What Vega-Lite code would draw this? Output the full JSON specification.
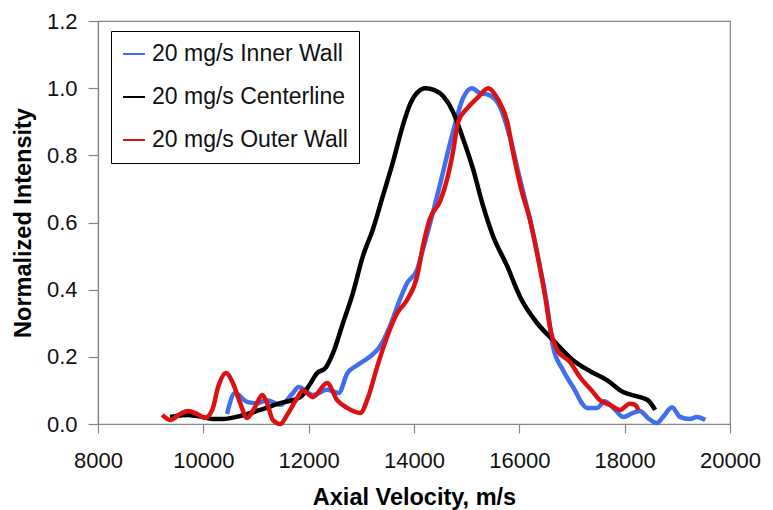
{
  "$schema": "https://vega.github.io/schema/vega-lite/v6.json",
  "width": 632,
  "height": 403,
  "autosize": {"type": "none"},
  "padding": {"left": 98, "top": 21, "right": 43, "bottom": 86},
  "background": "white",
  "config": {
    "font": "Liberation Sans",
    "view": {"stroke": "#868686", "strokeWidth": 1.2},
    "axis": {
      "grid": false,
      "domainColor": "#868686",
      "domainWidth": 1.2,
      "tickColor": "#868686",
      "tickWidth": 1.2,
      "labelColor": "#111111",
      "labelFont": "Liberation Sans",
      "labelFontSize": 22,
      "titleFont": "Liberation Sans",
      "titleFontSize": 23.5,
      "titleFontWeight": "bold",
      "titleColor": "#000000"
    }
  },
  "data": {
    "values": [
      {"series": "20 mg/s Inner Wall", "v": 10450, "i": 0.03},
      {"series": "20 mg/s Inner Wall", "v": 10600, "i": 0.092},
      {"series": "20 mg/s Inner Wall", "v": 10830, "i": 0.066},
      {"series": "20 mg/s Inner Wall", "v": 11020, "i": 0.062},
      {"series": "20 mg/s Inner Wall", "v": 11210, "i": 0.071},
      {"series": "20 mg/s Inner Wall", "v": 11460, "i": 0.057},
      {"series": "20 mg/s Inner Wall", "v": 11700, "i": 0.092},
      {"series": "20 mg/s Inner Wall", "v": 11810, "i": 0.11},
      {"series": "20 mg/s Inner Wall", "v": 12080, "i": 0.086},
      {"series": "20 mg/s Inner Wall", "v": 12350, "i": 0.102},
      {"series": "20 mg/s Inner Wall", "v": 12570, "i": 0.092},
      {"series": "20 mg/s Inner Wall", "v": 12730, "i": 0.15},
      {"series": "20 mg/s Inner Wall", "v": 12920, "i": 0.175},
      {"series": "20 mg/s Inner Wall", "v": 13160, "i": 0.2},
      {"series": "20 mg/s Inner Wall", "v": 13350, "i": 0.23},
      {"series": "20 mg/s Inner Wall", "v": 13540, "i": 0.29},
      {"series": "20 mg/s Inner Wall", "v": 13730, "i": 0.37},
      {"series": "20 mg/s Inner Wall", "v": 13870, "i": 0.42},
      {"series": "20 mg/s Inner Wall", "v": 14060, "i": 0.46},
      {"series": "20 mg/s Inner Wall", "v": 14170, "i": 0.52},
      {"series": "20 mg/s Inner Wall", "v": 14360, "i": 0.63},
      {"series": "20 mg/s Inner Wall", "v": 14520, "i": 0.73},
      {"series": "20 mg/s Inner Wall", "v": 14740, "i": 0.87},
      {"series": "20 mg/s Inner Wall", "v": 14930, "i": 0.97},
      {"series": "20 mg/s Inner Wall", "v": 15100, "i": 1.0},
      {"series": "20 mg/s Inner Wall", "v": 15250, "i": 0.985},
      {"series": "20 mg/s Inner Wall", "v": 15420, "i": 0.98},
      {"series": "20 mg/s Inner Wall", "v": 15630, "i": 0.945},
      {"series": "20 mg/s Inner Wall", "v": 15820, "i": 0.855},
      {"series": "20 mg/s Inner Wall", "v": 16010, "i": 0.73},
      {"series": "20 mg/s Inner Wall", "v": 16200, "i": 0.61},
      {"series": "20 mg/s Inner Wall", "v": 16390, "i": 0.47},
      {"series": "20 mg/s Inner Wall", "v": 16530, "i": 0.35},
      {"series": "20 mg/s Inner Wall", "v": 16640, "i": 0.23},
      {"series": "20 mg/s Inner Wall", "v": 16830, "i": 0.16},
      {"series": "20 mg/s Inner Wall", "v": 17020, "i": 0.11},
      {"series": "20 mg/s Inner Wall", "v": 17290, "i": 0.048},
      {"series": "20 mg/s Inner Wall", "v": 17480, "i": 0.048},
      {"series": "20 mg/s Inner Wall", "v": 17620, "i": 0.068},
      {"series": "20 mg/s Inner Wall", "v": 17820, "i": 0.042},
      {"series": "20 mg/s Inner Wall", "v": 17970, "i": 0.021},
      {"series": "20 mg/s Inner Wall", "v": 18160, "i": 0.033},
      {"series": "20 mg/s Inner Wall", "v": 18290, "i": 0.039},
      {"series": "20 mg/s Inner Wall", "v": 18440, "i": 0.018},
      {"series": "20 mg/s Inner Wall", "v": 18610, "i": 0.003},
      {"series": "20 mg/s Inner Wall", "v": 18730, "i": 0.021},
      {"series": "20 mg/s Inner Wall", "v": 18900, "i": 0.05},
      {"series": "20 mg/s Inner Wall", "v": 19050, "i": 0.021},
      {"series": "20 mg/s Inner Wall", "v": 19240, "i": 0.015},
      {"series": "20 mg/s Inner Wall", "v": 19370, "i": 0.021},
      {"series": "20 mg/s Inner Wall", "v": 19530, "i": 0.012},

      {"series": "20 mg/s Centerline", "v": 9370, "i": 0.021},
      {"series": "20 mg/s Centerline", "v": 9690, "i": 0.027},
      {"series": "20 mg/s Centerline", "v": 9940, "i": 0.022},
      {"series": "20 mg/s Centerline", "v": 10180, "i": 0.015},
      {"series": "20 mg/s Centerline", "v": 10370, "i": 0.015},
      {"series": "20 mg/s Centerline", "v": 10700, "i": 0.024},
      {"series": "20 mg/s Centerline", "v": 11080, "i": 0.042},
      {"series": "20 mg/s Centerline", "v": 11460, "i": 0.062},
      {"series": "20 mg/s Centerline", "v": 11840, "i": 0.08},
      {"series": "20 mg/s Centerline", "v": 12030, "i": 0.12},
      {"series": "20 mg/s Centerline", "v": 12160, "i": 0.152},
      {"series": "20 mg/s Centerline", "v": 12310, "i": 0.165},
      {"series": "20 mg/s Centerline", "v": 12460, "i": 0.21},
      {"series": "20 mg/s Centerline", "v": 12650, "i": 0.3},
      {"series": "20 mg/s Centerline", "v": 12840, "i": 0.39},
      {"series": "20 mg/s Centerline", "v": 13030, "i": 0.5},
      {"series": "20 mg/s Centerline", "v": 13220, "i": 0.58},
      {"series": "20 mg/s Centerline", "v": 13410, "i": 0.68},
      {"series": "20 mg/s Centerline", "v": 13600, "i": 0.78},
      {"series": "20 mg/s Centerline", "v": 13790, "i": 0.89},
      {"series": "20 mg/s Centerline", "v": 13920, "i": 0.95},
      {"series": "20 mg/s Centerline", "v": 14050, "i": 0.985},
      {"series": "20 mg/s Centerline", "v": 14220, "i": 1.0},
      {"series": "20 mg/s Centerline", "v": 14380, "i": 0.995},
      {"series": "20 mg/s Centerline", "v": 14560, "i": 0.975},
      {"series": "20 mg/s Centerline", "v": 14740, "i": 0.93},
      {"series": "20 mg/s Centerline", "v": 14930, "i": 0.85},
      {"series": "20 mg/s Centerline", "v": 15120, "i": 0.76},
      {"series": "20 mg/s Centerline", "v": 15310, "i": 0.65},
      {"series": "20 mg/s Centerline", "v": 15500, "i": 0.56},
      {"series": "20 mg/s Centerline", "v": 15770, "i": 0.47},
      {"series": "20 mg/s Centerline", "v": 16010, "i": 0.38},
      {"series": "20 mg/s Centerline", "v": 16340, "i": 0.3},
      {"series": "20 mg/s Centerline", "v": 16640, "i": 0.25},
      {"series": "20 mg/s Centerline", "v": 17020, "i": 0.19},
      {"series": "20 mg/s Centerline", "v": 17370, "i": 0.155},
      {"series": "20 mg/s Centerline", "v": 17670, "i": 0.13},
      {"series": "20 mg/s Centerline", "v": 17970, "i": 0.095},
      {"series": "20 mg/s Centerline", "v": 18290, "i": 0.08},
      {"series": "20 mg/s Centerline", "v": 18440, "i": 0.071},
      {"series": "20 mg/s Centerline", "v": 18580, "i": 0.042},

      {"series": "20 mg/s Outer Wall", "v": 9220, "i": 0.027},
      {"series": "20 mg/s Outer Wall", "v": 9370, "i": 0.012},
      {"series": "20 mg/s Outer Wall", "v": 9560, "i": 0.03},
      {"series": "20 mg/s Outer Wall", "v": 9710, "i": 0.039},
      {"series": "20 mg/s Outer Wall", "v": 9880, "i": 0.03},
      {"series": "20 mg/s Outer Wall", "v": 10030, "i": 0.018},
      {"series": "20 mg/s Outer Wall", "v": 10170, "i": 0.042},
      {"series": "20 mg/s Outer Wall", "v": 10280, "i": 0.11},
      {"series": "20 mg/s Outer Wall", "v": 10430, "i": 0.152},
      {"series": "20 mg/s Outer Wall", "v": 10560, "i": 0.122},
      {"series": "20 mg/s Outer Wall", "v": 10700, "i": 0.062},
      {"series": "20 mg/s Outer Wall", "v": 10830, "i": 0.018},
      {"series": "20 mg/s Outer Wall", "v": 10980, "i": 0.05},
      {"series": "20 mg/s Outer Wall", "v": 11120, "i": 0.086},
      {"series": "20 mg/s Outer Wall", "v": 11210, "i": 0.062},
      {"series": "20 mg/s Outer Wall", "v": 11320, "i": 0.012},
      {"series": "20 mg/s Outer Wall", "v": 11460, "i": 0.0},
      {"series": "20 mg/s Outer Wall", "v": 11590, "i": 0.027},
      {"series": "20 mg/s Outer Wall", "v": 11780, "i": 0.077},
      {"series": "20 mg/s Outer Wall", "v": 11890, "i": 0.1},
      {"series": "20 mg/s Outer Wall", "v": 12080, "i": 0.08},
      {"series": "20 mg/s Outer Wall", "v": 12350, "i": 0.122},
      {"series": "20 mg/s Outer Wall", "v": 12540, "i": 0.071},
      {"series": "20 mg/s Outer Wall", "v": 12730, "i": 0.048},
      {"series": "20 mg/s Outer Wall", "v": 12980, "i": 0.033},
      {"series": "20 mg/s Outer Wall", "v": 13130, "i": 0.08},
      {"series": "20 mg/s Outer Wall", "v": 13300, "i": 0.17},
      {"series": "20 mg/s Outer Wall", "v": 13490, "i": 0.26},
      {"series": "20 mg/s Outer Wall", "v": 13680, "i": 0.33},
      {"series": "20 mg/s Outer Wall", "v": 13870, "i": 0.37},
      {"series": "20 mg/s Outer Wall", "v": 14060, "i": 0.44},
      {"series": "20 mg/s Outer Wall", "v": 14170, "i": 0.53},
      {"series": "20 mg/s Outer Wall", "v": 14300, "i": 0.61},
      {"series": "20 mg/s Outer Wall", "v": 14500, "i": 0.665},
      {"series": "20 mg/s Outer Wall", "v": 14630, "i": 0.73},
      {"series": "20 mg/s Outer Wall", "v": 14740, "i": 0.81},
      {"series": "20 mg/s Outer Wall", "v": 14840, "i": 0.9},
      {"series": "20 mg/s Outer Wall", "v": 15010, "i": 0.94},
      {"series": "20 mg/s Outer Wall", "v": 15200, "i": 0.97},
      {"series": "20 mg/s Outer Wall", "v": 15410, "i": 1.0},
      {"series": "20 mg/s Outer Wall", "v": 15600, "i": 0.965},
      {"series": "20 mg/s Outer Wall", "v": 15770, "i": 0.9},
      {"series": "20 mg/s Outer Wall", "v": 15880, "i": 0.81},
      {"series": "20 mg/s Outer Wall", "v": 16050, "i": 0.69},
      {"series": "20 mg/s Outer Wall", "v": 16200, "i": 0.61},
      {"series": "20 mg/s Outer Wall", "v": 16360, "i": 0.49},
      {"series": "20 mg/s Outer Wall", "v": 16490, "i": 0.38},
      {"series": "20 mg/s Outer Wall", "v": 16580, "i": 0.29},
      {"series": "20 mg/s Outer Wall", "v": 16720, "i": 0.22},
      {"series": "20 mg/s Outer Wall", "v": 16960, "i": 0.185},
      {"series": "20 mg/s Outer Wall", "v": 17150, "i": 0.14},
      {"series": "20 mg/s Outer Wall", "v": 17400, "i": 0.095},
      {"series": "20 mg/s Outer Wall", "v": 17530, "i": 0.071},
      {"series": "20 mg/s Outer Wall", "v": 17720, "i": 0.057},
      {"series": "20 mg/s Outer Wall", "v": 17910, "i": 0.042},
      {"series": "20 mg/s Outer Wall", "v": 18100, "i": 0.06},
      {"series": "20 mg/s Outer Wall", "v": 18200, "i": 0.057},
      {"series": "20 mg/s Outer Wall", "v": 18260, "i": 0.042}
    ]
  },
  "mark": {"type": "line", "strokeWidth": 4.5, "interpolate": "monotone"},
  "encoding": {
    "x": {
      "field": "v",
      "type": "quantitative",
      "scale": {"domain": [8000, 20000], "nice": false, "zero": false},
      "axis": {
        "title": "Axial Velocity, m/s",
        "values": [8000, 10000, 12000, 14000, 16000, 18000, 20000],
        "format": "d",
        "tickSize": 9,
        "labelPadding": 17,
        "titlePadding": 14,
        "labelFlush": false,
        "labelOverlap": false
      }
    },
    "y": {
      "field": "i",
      "type": "quantitative",
      "scale": {"domain": [0, 1.2], "nice": false},
      "axis": {
        "title": "Normalized Intensity",
        "values": [0, 0.2, 0.4, 0.6, 0.8, 1.0, 1.2],
        "format": ".1f",
        "tickSize": 10,
        "labelPadding": 11,
        "titlePadding": 11,
        "labelFlush": false,
        "labelOverlap": false
      }
    },
    "color": {
      "field": "series",
      "type": "nominal",
      "sort": ["20 mg/s Inner Wall", "20 mg/s Centerline", "20 mg/s Outer Wall"],
      "scale": {
        "domain": ["20 mg/s Inner Wall", "20 mg/s Centerline", "20 mg/s Outer Wall"],
        "range": ["#3F6FEF", "#000000", "#DD1111"]
      },
      "legend": {
        "title": null,
        "orient": "none",
        "legendX": 13,
        "legendY": 10,
        "strokeColor": "#000000",
        "fillColor": "#ffffff",
        "padding": 11,
        "rowPadding": 19,
        "symbolType": "stroke",
        "symbolSize": 480,
        "symbolStrokeWidth": 2,
        "labelFontSize": 23,
        "labelFont": "Liberation Sans",
        "labelColor": "#111111",
        "labelOffset": 6,
        "labelLimit": 400
      }
    }
  }
}
